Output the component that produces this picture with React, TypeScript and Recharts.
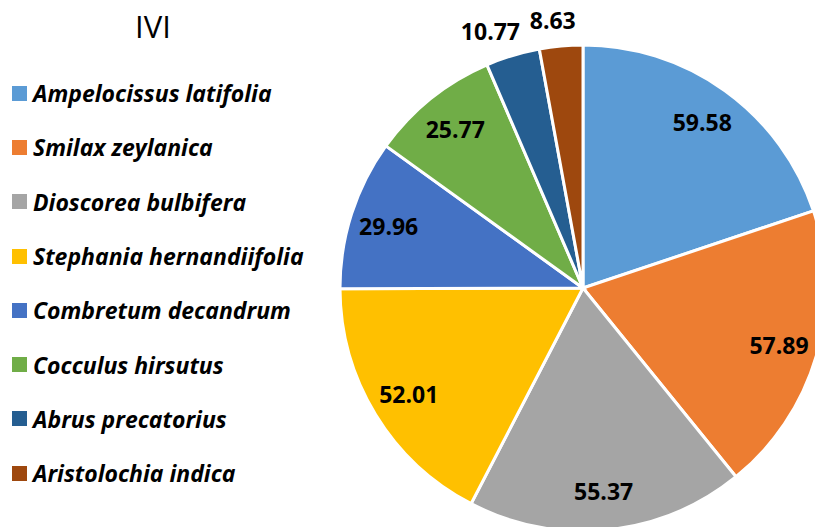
import { PieChart, Pie, Cell } from "recharts";

const species = [
  "Ampelocissus latifolia",
  "Smilax zeylanica",
  "Dioscorea bulbifera",
  "Stephania hernandiifolia",
  "Combretum decandrum",
  "Cocculus hirsutus",
  "Abrus precatorius",
  "Aristolochia indica",
];

const iviValues = [59.58, 57.89, 55.37, 52.01, 29.96, 25.77, 10.77, 8.63];

const colors = [
  "#5B9BD5",
  "#ED7D31",
  "#A5A5A5",
  "#FFC000",
  "#4472C4",
  "#70AD47",
  "#255E91",
  "#9E480E",
];

const data = species.map((name, i) => ({ name, value: iviValues[i] }));

const RAD = Math.PI / 180;

// big slices get the label inside, the two thin ones outside (spread a bit wider so they don't touch)
const renderLabel = (props: any) => {
  const { cx, cy, midAngle, outerRadius, value } = props;
  const outside = value < 15;
  const rx = outside ? outerRadius + 70 : outerRadius * 0.84;
  const ry = outside ? outerRadius + 26 : outerRadius * 0.84;
  const x = cx + rx * Math.cos(-midAngle * RAD) - (outside ? 2 : 0);
  const y = cy + ry * Math.sin(-midAngle * RAD);
  return (
    <text
      x={x}
      y={y}
      fill="#000"
      textAnchor="middle"
      dominantBaseline="central"
      style={{ fontFamily: "'Open Sans', sans-serif", fontWeight: 700, fontSize: 23 }}
    >
      {value.toFixed(2)}
    </text>
  );
};

export default function App() {
  return (
    <div
      style={{
        position: "absolute",
        left: 0,
        top: 0,
        width: 815,
        height: 527,
        overflow: "hidden",
        background: "#fff",
      }}
    >
      <PieChart
        width={815}
        height={527}
        margin={{ top: 0, right: 0, bottom: 0, left: 0 }}
      >
        <Pie
          data={data}
          dataKey="value"
          nameKey="name"
          cx={583}
          cy={288}
          outerRadius={243}
          startAngle={90}
          endAngle={-270}
          stroke="#fff"
          strokeWidth={3}
          label={renderLabel}
          labelLine={false}
          isAnimationActive={false}
        >
          {data.map((d, i) => (
            <Cell key={d.name} fill={colors[i]} />
          ))}
        </Pie>
      </PieChart>
      <div
        style={{
          position: "absolute",
          left: 153,
          top: 26,
          transform: "translate(-50%, -50%)",
          fontFamily: "'Open Sans', sans-serif",
          fontSize: 31,
          color: "#000",
        }}
      >
        IVI
      </div>
      {/* legend, one row per species */}
      <div
        style={{
          position: "absolute",
          left: 12,
          top: 66,
          fontFamily: "'Open Sans', sans-serif",
        }}
      >
        {data.map((d, i) => (
          <div
            key={d.name}
            style={{ display: "flex", alignItems: "center", height: 54.3 }}
          >
            <div
              style={{ width: 15, height: 15, background: colors[i], marginRight: 6 }}
            />
            <span
              style={{
                fontSize: 23,
                fontWeight: 700,
                fontStyle: "italic",
                color: "#000",
                whiteSpace: "nowrap",
              }}
            >
              {d.name}
            </span>
          </div>
        ))}
      </div>
    </div>
  );
}
